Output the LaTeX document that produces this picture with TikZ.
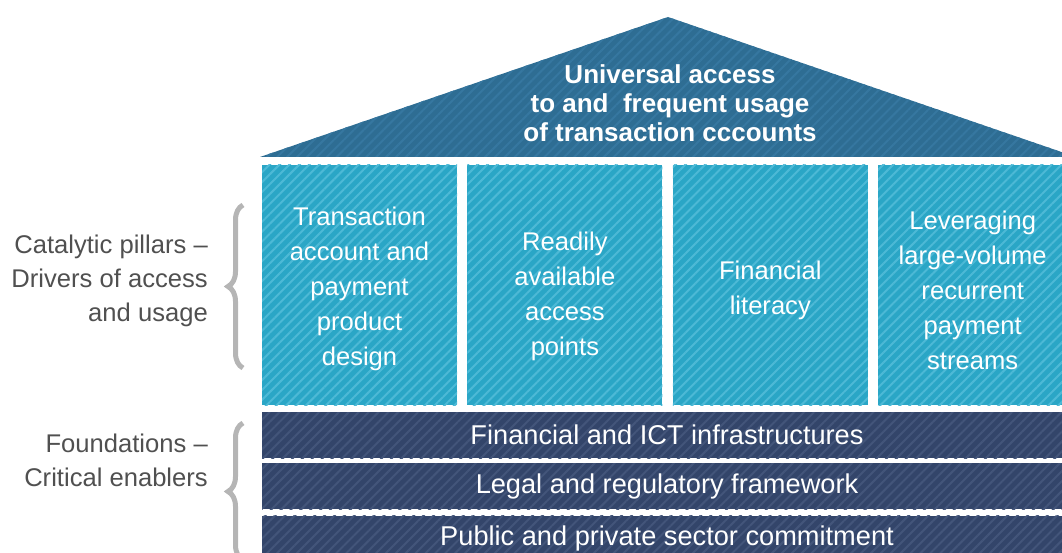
\documentclass[tikz,border=0pt]{standalone}
\usepackage{fontspec}
\setmainfont{Liberation Sans}
\usetikzlibrary{positioning, patterns.meta, decorations.pathreplacing}

\definecolor{roofblue}{HTML}{2E6D93}
\definecolor{rooflight}{HTML}{3677A0}
\definecolor{pillarteal}{HTML}{2AA6C6}
\definecolor{pillarlight}{HTML}{4DB9D6}
\definecolor{basenavy}{HTML}{33456A}
\definecolor{baselight}{HTML}{43557A}
\definecolor{labelgray}{HTML}{505050}
\definecolor{bracegray}{HTML}{B5B5B5}

\begin{document}
\begin{tikzpicture}[
  x=1pt, y=-1pt,
  every node/.style={align=center, inner sep=0pt},
  pillar/.style={rectangle, minimum width=195pt, minimum height=240pt,
    fill=pillarteal, postaction={pattern={Lines[angle=45,distance=7pt,line width=2pt]}, pattern color=pillarlight}},
  piltext/.style={text=white, font=\fontsize{25.6}{35}\selectfont},
  found/.style={rectangle, minimum width=810pt, minimum height=46pt, text=white,
    fill=basenavy, postaction={pattern={Lines[angle=45,distance=7pt,line width=2pt]}, pattern color=baselight},
    font=\fontsize{27.2}{30}\selectfont},
  sidelabel/.style={anchor=east, align=right, text=labelgray, font=\fontsize{25.6}{34}\selectfont},
  bracket/.style={draw=bracegray, line width=5pt, decorate, decoration={brace, amplitude=15pt}}
  ]
\useasboundingbox (0,0) rectangle (1062,553);
\clip (0,0) rectangle (1062,553);

% Roof
\coordinate (eaveL) at (260,157);
\coordinate (apex) at (668,17);
\coordinate (eaveR) at (1076,157);
\fill[roofblue, postaction={pattern={Lines[angle=45,distance=7pt,line width=2pt]}, pattern color=rooflight}]
  (eaveL) -- (apex) -- (eaveR) -- cycle;
\node[text=white, font=\bfseries\fontsize{26}{29}\selectfont] (goal) at (670,103)
  {Universal access\\to and \ frequent usage\\of transaction cccounts};

% Pillars
\node[pillar] (pil1) at (359.5,285) {};
\node[pillar, right=10pt of pil1] (pil2) {};
\node[pillar, right=10pt of pil2] (pil3) {};
\node[pillar, right=10pt of pil3] (pil4) {};
\node[piltext, yshift=-4pt] (txt1) at (pil1) {Transaction\\account and\\payment\\product\\design};
\node[piltext, yshift=-11pt] (txt2) at (pil2) {Readily\\available\\access\\points};
\node[piltext, yshift=-5pt] (txt3) at (pil3) {Financial\\literacy};
\node[piltext, yshift=-5pt, xshift=-3pt] (txt4) at (pil4) {Leveraging\\large-volume\\recurrent\\payment\\streams};

% Foundations
\node[found] (fnd1) at (667,435) {Financial and ICT infrastructures};
\node[found, below=5pt of fnd1] (fnd2) {Legal and regulatory framework};
\node[found, below=6pt of fnd2] (fnd3) {Public and private sector commitment};

% Side labels and braces
\node[sidelabel] (pilnote) at (208,281) {Catalytic pillars --\\Drivers of access\\and usage};
\node[sidelabel] (fndnote) at (208,460) {Foundations --\\Critical enablers};
\coordinate (pbtop) at (243,205);
\coordinate (pbbot) at (243,368);
\coordinate (fbtop) at (243,423);
\coordinate (fbbot) at (243,560);
\draw[bracket] (pbbot) -- (pbtop);
\draw[bracket] (fbbot) -- (fbtop);

\end{tikzpicture}
\end{document}
